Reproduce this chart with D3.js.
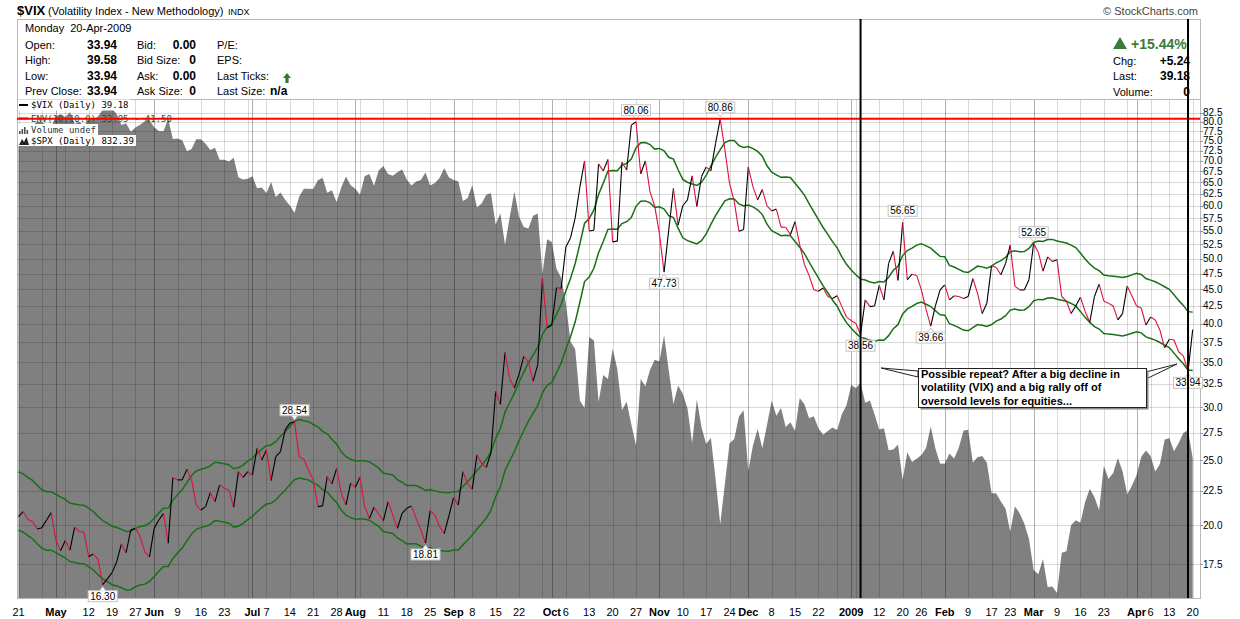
<!DOCTYPE html>
<html><head><meta charset="utf-8">
<script src="https://cdn.jsdelivr.net/npm/d3@7"></script>
<style>
body{margin:0;background:#fff;}
svg{display:block;font-family:"Liberation Sans",Arial,sans-serif;}
</style></head><body>
<svg id="c" width="1240" height="619"></svg>
<script>
// ---------- DATA ----------
const startDate = "2008-04-21";
const holidays = ["2008-05-26","2008-07-04","2008-09-01","2008-11-27","2008-12-25","2009-01-01","2009-01-19","2009-02-16","2009-04-10"];

// VIX closes for the 9 sessions before the window (needed for the 10-day envelope)
const vixPrior = [22.4,23.0,22.5,23.3,23.0,21.8,20.9,20.7,20.2];

// VIX daily closes 2008-04-21 .. 2009-04-20
const vix = [
20.59,20.95,20.40,20.25,19.74,19.83,20.36,20.88,18.97,18.32,
18.97,18.36,19.86,19.57,19.53,17.94,18.11,17.78,16.30,16.63,
16.99,17.64,18.75,18.19,19.68,19.78,19.23,18.25,17.94,19.78,
20.36,20.83,18.79,23.56,23.37,23.37,24.24,23.37,21.42,21.07,
21.32,22.37,21.69,22.97,22.71,22.57,21.27,24.04,23.58,24.04,
23.77,26.05,25.03,25.90,23.31,25.31,25.75,27.75,28.40,28.54,
25.31,25.08,24.18,23.37,21.32,21.37,23.64,23.05,24.31,22.32,
21.44,23.11,22.78,23.58,21.32,20.47,21.27,20.78,20.31,21.69,
20.71,19.78,20.83,21.19,21.37,20.47,19.68,18.81,21.03,20.71,
19.90,19.43,20.65,21.99,21.43,24.03,23.06,22.64,25.47,24.71,
24.39,25.66,31.70,30.30,36.22,33.10,32.07,33.59,35.72,35.10,
32.82,34.74,46.72,39.39,39.81,45.26,45.14,52.05,53.68,57.53,
63.92,69.95,54.99,55.13,69.25,67.61,70.33,52.97,53.11,69.65,
67.80,79.13,80.06,66.96,69.96,62.90,59.89,54.50,47.73,55.20,
63.68,56.10,59.98,61.20,66.46,59.83,66.31,68.50,67.60,74.26,
80.86,72.67,64.70,60.90,54.92,55.28,68.51,64.00,61.20,63.40,
59.93,58.91,59.30,55.73,55.70,54.28,56.80,52.37,49.00,47.20,
44.93,44.70,45.20,43.90,43.60,44.00,42.40,40.90,40.40,40.00,
38.56,43.39,42.40,42.50,45.60,43.40,49.20,51.30,46.40,56.65,
46.50,47.40,47.20,44.90,42.00,39.66,42.50,44.90,45.70,43.40,
44.00,43.90,43.60,43.90,46.70,44.40,41.40,42.90,48.80,48.50,
47.30,49.20,52.40,45.50,44.90,44.90,46.50,52.65,51.10,47.90,
50.30,49.50,49.80,43.90,43.20,41.40,42.50,43.80,41.70,40.20,
43.90,45.80,43.20,42.90,42.50,40.50,41.40,45.50,44.00,42.50,
42.20,39.80,40.90,40.50,39.10,36.80,37.90,37.80,36.30,35.80,
33.94,39.18];

// S&P 500 daily closes, same sessions
const spx = [
1388.17,1375.94,1379.93,1388.82,1397.84,1396.37,1390.94,1385.59,1409.34,1413.90,
1407.49,1418.26,1392.57,1397.68,1388.28,1403.58,1403.04,1408.66,1423.57,1425.35,
1426.63,1413.40,1390.71,1394.35,1375.93,1385.35,1390.84,1398.26,1400.38,1385.67,
1377.65,1377.20,1404.05,1360.68,1361.76,1358.44,1335.49,1339.87,1360.03,1360.14,
1350.93,1337.81,1342.83,1317.93,1318.00,1314.29,1321.97,1283.15,1278.38,1280.00,
1284.91,1261.52,1262.90,1252.31,1273.70,1244.69,1253.39,1239.49,1228.30,1214.91,
1245.36,1260.32,1260.68,1260.00,1277.00,1282.19,1252.54,1257.76,1234.37,1263.20,
1284.26,1267.38,1260.31,1249.01,1284.88,1289.19,1266.07,1296.32,1305.32,1289.59,
1285.83,1292.93,1298.20,1278.60,1266.69,1274.54,1277.72,1292.20,1266.84,1271.51,
1281.66,1300.68,1282.83,1277.58,1274.98,1236.83,1242.31,1267.79,1224.51,1232.04,
1249.05,1251.70,1192.70,1213.60,1156.39,1206.51,1255.08,1207.09,1188.22,1185.87,
1209.18,1213.27,1106.39,1166.36,1161.06,1114.28,1099.23,1056.89,996.23,984.94,
909.92,899.22,1003.35,998.01,907.84,946.43,940.55,985.40,955.05,896.78,
908.11,876.77,848.92,940.51,930.09,954.09,968.75,966.30,1005.75,952.77,
904.88,930.99,919.21,898.95,852.30,911.29,873.29,850.75,859.12,806.58,
752.44,800.03,851.81,857.39,887.68,896.24,816.21,848.81,870.74,845.22,
876.07,909.70,888.67,899.24,873.59,879.73,868.57,913.18,904.42,885.28,
887.88,871.63,863.16,868.15,872.80,869.42,890.64,903.25,931.80,927.45,
934.70,906.65,909.73,890.35,870.26,871.79,842.62,843.74,850.12,805.22,
840.24,827.50,831.95,836.57,845.71,874.09,845.14,825.88,825.44,838.51,
832.23,845.85,868.60,869.89,827.16,833.74,835.19,826.84,789.17,788.42,
778.94,770.05,743.33,773.14,764.90,752.83,735.09,700.82,696.33,712.87,
682.55,683.38,676.53,719.60,721.36,750.74,756.55,753.89,778.12,794.35,
784.04,768.54,822.92,806.12,813.88,832.86,815.94,787.53,797.87,811.08,
834.38,842.50,835.48,815.55,825.16,856.56,858.73,841.50,852.06,865.30,
869.60,832.39];

const xTickDates  = ["2008-04-21","2008-05-01","2008-05-12","2008-05-19","2008-05-27","2008-06-02","2008-06-09","2008-06-16","2008-06-23","2008-07-01","2008-07-07","2008-07-14","2008-07-21","2008-07-28","2008-08-01","2008-08-11","2008-08-18","2008-08-25","2008-09-02","2008-09-08","2008-09-15","2008-09-22","2008-10-01","2008-10-06","2008-10-13","2008-10-20","2008-10-27","2008-11-03","2008-11-10","2008-11-17","2008-11-24","2008-12-01","2008-12-08","2008-12-15","2008-12-22","2009-01-02","2009-01-12","2009-01-20","2009-01-26","2009-02-02","2009-02-09","2009-02-17","2009-02-23","2009-03-02","2009-03-09","2009-03-16","2009-03-23","2009-04-01","2009-04-06","2009-04-13","2009-04-20"];
const xTickLabels = ["21","May","12","19","27","Jun","9","16","23","Jul","7","14","21","28","Aug","11","18","25","Sep","8","15","22","Oct","6","13","20","27","Nov","10","17","24","Dec","8","15","22","2009","12","20","26","Feb","9","17","23","Mar","9","16","23","Apr","6","13","20"];
const yTicks = [17.5,20,22.5,25,27.5,30,32.5,35,37.5,40,42.5,45,47.5,50,52.5,55,57.5,60,62.5,65,67.5,70,72.5,75,77.5,80,82.5];

const markAbove = ["2008-07-15","2008-10-27","2008-11-20","2009-01-20","2009-03-02"];
const markBelow = ["2008-05-15","2008-08-22","2008-11-04","2009-01-06","2009-01-28","2009-04-17"];
const vLineDates = ["2009-01-06","2009-04-17"];

const titleSymbol = "$VIX", titleName = "(Volatility Index - New Methodology)", titleExch = "INDX";
const dateLine = "Monday  20-Apr-2009";
const infoLabels1 = ["Open:","High:","Low:","Prev Close:"];
const infoValues1 = ["33.94","39.58","33.94","33.94"];
const infoLabels2 = ["Bid:","Bid Size:","Ask:","Ask Size:"];
const infoValues2 = ["0.00","0","0.00","0"];
const infoLabels3 = ["P/E:","EPS:","Last Ticks:","Last Size:"];
const infoValues3 = ["","","","n/a"];
const pctChange = "+15.44%";
const rightLabels = ["Chg:","Last:","Volume:"];
const rightValues = ["+5.24","39.18","0"];
const legendTexts = ["$VIX (Daily) 39.18","ENV(10,10.0) 33.95 - 41.50","Volume undef","$SPX (Daily) 832.39"];
const calloutLines = ["Possible repeat? After a big decline in","volatility (VIX) and a big rally off of","oversold levels for equities..."];

// ---------- SETUP ----------
const dates=[]; {let d=new Date(Date.UTC(2008,3,21));
 while(dates.length<vix.length){const w=d.getUTCDay();const s=d.toISOString().slice(0,10);
  if(w!==0&&w!==6&&!holidays.includes(s))dates.push(s); d.setUTCDate(d.getUTCDate()+1);}}
const idx = s=>dates.indexOf(s);
const L=17,R=1200,T=100,B=598,HT=19;
const svg=d3.select("#c");
const x=d3.scaleLinear().domain([0,vix.length-1]).range([18.5,1192.7]);
const y=d3.scaleLog().domain([15.57,86.27]).range([B,T]);
const ys=d3.scaleLog().domain([671.3,1445]).range([B,T]);

svg.append("defs").append("clipPath").attr("id","pc").append("rect").attr("x",L).attr("y",T).attr("width",R-L).attr("height",B-T);
const g=svg.append("g").attr("clip-path","url(#pc)");

// SPX area
g.append("path").datum(spx).attr("fill","#808080")
 .attr("d",d3.area().x((d,i)=>x(i)).y0(B).y1(d=>ys(d)));

// grid
const dayNum=s=>Math.floor(Date.parse(s)/86400000);
const weekStarts=[],monthStarts=[];
dates.forEach((s,i)=>{
  if(i===0||Math.floor((dayNum(s)+3)/7)!==Math.floor((dayNum(dates[i-1])+3)/7))weekStarts.push(i);
  if(i>0&&s.slice(0,7)!==dates[i-1].slice(0,7))monthStarts.push(i);
});
g.selectAll(".hg").data(yTicks).enter().append("line")
 .attr("x1",L).attr("x2",R).attr("y1",d=>Math.round(y(d))+0.5).attr("y2",d=>Math.round(y(d))+0.5)
 .attr("stroke","rgba(0,0,0,0.15)");
g.selectAll(".wg").data(weekStarts.filter(i=>!monthStarts.includes(i))).enter().append("line")
 .attr("x1",i=>Math.round(x(i))+0.5).attr("x2",i=>Math.round(x(i))+0.5).attr("y1",T).attr("y2",B)
 .attr("stroke","rgba(0,0,0,0.15)");
g.selectAll(".mg").data(monthStarts).enter().append("line")
 .attr("x1",i=>Math.round(x(i))+0.5).attr("x2",i=>Math.round(x(i))+0.5).attr("y1",T).attr("y2",B)
 .attr("stroke","rgba(0,0,0,0.3)");

// envelope
const full=vixPrior.concat(vix);
const sma=vix.map((v,i)=>d3.mean(full.slice(i,i+10)));
const ln=d3.line().x((d,i)=>x(i)).y(d=>y(d));
[1.1,0.9].forEach(k=>g.append("path").datum(sma.map(v=>v*k)).attr("d",ln)
  .attr("fill","none").attr("stroke","#167016").attr("stroke-width",1.5));

// VIX line, black up / red down
g.selectAll(".seg").data(vix.slice(1)).enter().append("line")
 .attr("x1",(d,i)=>x(i)).attr("y1",(d,i)=>y(vix[i]))
 .attr("x2",(d,i)=>x(i+1)).attr("y2",d=>y(d))
 .attr("stroke",(d,i)=>d>=vix[i]?"#000":"#e0103c").attr("stroke-width",1.1);

// frame
svg.append("rect").attr("x",L+0.5).attr("y",HT+0.5).attr("width",R-L).attr("height",B-HT)
 .attr("fill","none").attr("stroke","#b8b8b8");
svg.append("line").attr("x1",L).attr("x2",R).attr("y1",T-0.5).attr("y2",T-0.5).attr("stroke","#b8b8b8");

// right axis
const ya=svg.append("g").attr("font-size",10);
ya.selectAll("text").data(yTicks).enter().append("text")
 .attr("x",R+3).attr("y",d=>y(d)).attr("dy","0.35em").text(d3.format(".1f"));
ya.selectAll("line").data(yTicks).enter().append("line")
 .attr("x1",R).attr("x2",R+3).attr("y1",d=>Math.round(y(d))+0.5).attr("y2",d=>Math.round(y(d))+0.5).attr("stroke","#999");

// x axis labels
const xa=svg.append("g").attr("font-size",11).attr("text-anchor","middle");
xTickDates.forEach((s,k)=>{
  const i=idx(s);
  xa.append("text").attr("x",x(i)).attr("y",616).text(xTickLabels[k])
   .attr("font-weight",monthStarts.includes(i)?"bold":"normal");
});

// legend
const lg=svg.append("g").attr("font-family","DejaVu Sans Mono, monospace").attr("font-size",9);
const rowsY=[105,118.5,129.5,140.5];
legendTexts.forEach((t,k)=>{
  const tx=lg.append("text").attr("x",31).attr("y",rowsY[k]).attr("dy","0.35em").text(t)
    .attr("fill",k===1?"#0a640a":(k===2?"#333":"#000"));
  const w=tx.node().getComputedTextLength();
  if(k!==1) lg.insert("rect","text").attr("x",L+1).attr("y",rowsY[k]-5.5).attr("width",31+w-L+1).attr("height",11).attr("fill","#fff");
});
lg.append("line").attr("x1",19).attr("x2",28).attr("y1",105).attr("y2",105).attr("stroke","#000").attr("stroke-width",2);
lg.append("line").attr("x1",19).attr("x2",28).attr("y1",118.5).attr("y2",118.5).attr("stroke","#167016").attr("stroke-width",2);
[[19,3],[21.5,5],[24,7],[26.5,4]].forEach(b=>lg.append("rect").attr("x",b[0]).attr("y",134-b[1]).attr("width",1.6).attr("height",b[1]).attr("fill","#555"));
lg.append("path").attr("d","M19,145 L22,139 L24,142 L26.5,137 L29,145 Z").attr("fill","#222");

// point labels
const lab=svg.append("g").attr("font-size",10);
function pointLabel(s,above){
  const i=idx(s), v=vix[i], cx=x(i), cy=y(v);
  const t=lab.append("text").attr("text-anchor","middle").text(v.toFixed(2));
  const w=t.node().getComputedTextLength()+4, h=11;
  const top=above?cy-6-h:cy+6;
  t.attr("x",cx).attr("y",top+h-2);
  lab.insert("rect","text").attr("x",cx-w/2).attr("y",top).attr("width",w).attr("height",h)
    .attr("fill","#fff").attr("stroke","#c4c4c4");
  const py=above?top+h:top;
  lab.insert("path","text").attr("d",above?`M${cx-3},${py} L${cx},${py+4} L${cx+3},${py}`:`M${cx-3},${py} L${cx},${py-4} L${cx+3},${py}`)
    .attr("fill","#fff").attr("stroke","#c4c4c4");
}
markAbove.forEach(s=>pointLabel(s,true));
markBelow.forEach(s=>pointLabel(s,false));

// callout
const co=svg.append("g");
co.append("path").attr("d","M881,368 L918,371 L918,377 Z").attr("fill","#fff").attr("stroke","#222");
co.append("path").attr("d","M1177,364 L1146,372 L1146,379 Z").attr("fill","#fff").attr("stroke","#222");
co.append("rect").attr("x",920.5).attr("y",370.5).attr("width",228).attr("height",39).attr("fill","#888");
co.append("rect").attr("x",918.5).attr("y",368.5).attr("width",228).attr("height",39).attr("fill","#fff").attr("stroke","#222");
calloutLines.forEach((t,k)=>co.append("text").attr("x",921).attr("y",377.5+k*13.5).attr("font-weight","bold").attr("font-size",11).text(t));

// red max line, black vertical lines
const vmax=d3.max(vix);
svg.append("line").attr("x1",L).attr("x2",R).attr("y1",y(vmax)).attr("y2",y(vmax)).attr("stroke","#f00").attr("stroke-width",2);
vLineDates.forEach(s=>svg.append("line").attr("x1",x(idx(s))).attr("x2",x(idx(s))).attr("y1",HT).attr("y2",B).attr("stroke","#000").attr("stroke-width",2));

// header
const hd=svg.append("g").attr("font-size",11);
hd.append("text").attr("x",17).attr("y",15).attr("font-weight","bold").attr("font-size",13).text(titleSymbol);
hd.append("text").attr("x",48).attr("y",15).text(titleName);
hd.append("text").attr("x",228).attr("y",15).attr("font-size",9).text(titleExch);
hd.append("text").attr("x",1198).attr("y",15).attr("text-anchor","end").attr("fill","#444").text("\u00a9 StockCharts.com");
hd.append("text").attr("x",25).attr("y",32).text(dateLine).attr("xml:space","preserve");
const rowY=[48.5,64,79.5,95];
infoLabels1.forEach((t,k)=>{
  hd.append("text").attr("x",25).attr("y",rowY[k]).text(t);
  hd.append("text").attr("x",117).attr("y",rowY[k]).attr("text-anchor","end").attr("font-weight","bold").attr("font-size",12).text(infoValues1[k]);
  hd.append("text").attr("x",137).attr("y",rowY[k]).text(infoLabels2[k]);
  hd.append("text").attr("x",196).attr("y",rowY[k]).attr("text-anchor","end").attr("font-weight","bold").attr("font-size",12).text(infoValues2[k]);
  hd.append("text").attr("x",217).attr("y",rowY[k]).text(infoLabels3[k]);
  if(infoValues3[k])hd.append("text").attr("x",270).attr("y",rowY[k]).attr("font-weight","bold").attr("font-size",12).text(infoValues3[k]);
});
hd.append("path").attr("d","M287,73 L291,78 L288.6,78 L288.6,83 L285.4,83 L285.4,78 L283,78 Z").attr("fill","#2f7a2f");
hd.append("path").attr("d","M1113,49 L1120,37 L1127,49 Z").attr("fill","#3a7a3a");
hd.append("text").attr("x",1131).attr("y",49).attr("font-weight","bold").attr("font-size",14).attr("fill","#3a7a3a").text(pctChange);
rightLabels.forEach((t,k)=>{
  hd.append("text").attr("x",1113).attr("y",rowY[k+1]+0.5).text(t);
  hd.append("text").attr("x",1190).attr("y",rowY[k+1]+0.5).attr("text-anchor","end").attr("font-weight","bold").attr("font-size",12).text(rightValues[k]);
});
</script></body></html>
